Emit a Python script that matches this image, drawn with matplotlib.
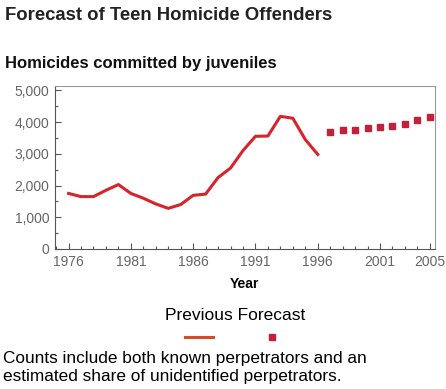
import matplotlib.pyplot as plt
from matplotlib.ticker import MultipleLocator, FuncFormatter
from matplotlib.lines import Line2D

plt.rcParams['font.family'] = ['Liberation Sans', 'DejaVu Sans']

# Dati
anni = list(range(1976, 1997))
omicidi = [1750, 1650, 1650, 1850, 2030, 1750, 1600, 1420, 1280, 1400, 1690,
           1730, 2250, 2550, 3100, 3550, 3560, 4180, 4120, 3450, 2980]
anni_prev = list(range(1997, 2006))
previsione = [3690, 3760, 3760, 3800, 3830, 3880, 3950, 4070, 4160]
tick_anni = [1976, 1981, 1986, 1991, 1996, 2001, 2005]

ROSSO = '#d8232a'
ROSSO_SCURO = '#c4203c'

fig = plt.figure(figsize=(4.46, 3.89), dpi=100)
ax = fig.add_axes([0.123, 0.36, 0.852, 0.42])

ax.plot(anni, omicidi, color=ROSSO, lw=2.2)
ax.plot(anni_prev, previsione, ls='none', marker='s', ms=4, color=ROSSO_SCURO)

ax.set_xlim(1974.9, 2005.4)
ax.set_ylim(0, 5150)
ax.set_xticks(tick_anni)
ax.xaxis.set_minor_locator(MultipleLocator(1))
ax.yaxis.set_major_locator(MultipleLocator(1000))
ax.yaxis.set_minor_locator(MultipleLocator(500))
ax.yaxis.set_major_formatter(FuncFormatter(lambda v, p: f'{int(v):,}'))
ax.tick_params(direction='in', labelsize=10, labelcolor='#666666',
               color='#555555', length=4, width=0.8, pad=4)
ax.tick_params(which='minor', direction='in', length=2, width=0.8,
               color='#555555')
for s in ax.spines.values():
    s.set_color('#999999')
    s.set_linewidth(0.8)
ax.spines['bottom'].set_color('#555555')
ax.spines['left'].set_color('#555555')

ax.set_xlabel('Year', fontsize=10, fontweight='bold', labelpad=6)

fig.text(0.012, 0.96, 'Forecast of Teen Homicide Offenders', fontsize=13.3,
         fontweight='bold', color='#222222', va='center')
fig.text(0.012, 0.838, 'Homicides committed by juveniles', fontsize=12,
         fontweight='bold', color='#111111', va='center')

fig.text(0.527, 0.19, 'Previous Forecast', fontsize=12.5, ha='center', va='center')
fig.add_artist(Line2D([0.415, 0.478], [0.134, 0.134], color='#d84a2a', lw=2.2))
fig.add_artist(Line2D([0.609], [0.134], color=ROSSO_SCURO, marker='s', ms=4,
                      ls='none'))

fig.text(0.006, 0.079, 'Counts include both known perpetrators and an',
         fontsize=12.4, va='center')
fig.text(0.006, 0.032, 'estimated share of unidentified perpetrators.',
         fontsize=12.4, va='center')

plt.savefig('out.png', dpi=100)
plt.close()
